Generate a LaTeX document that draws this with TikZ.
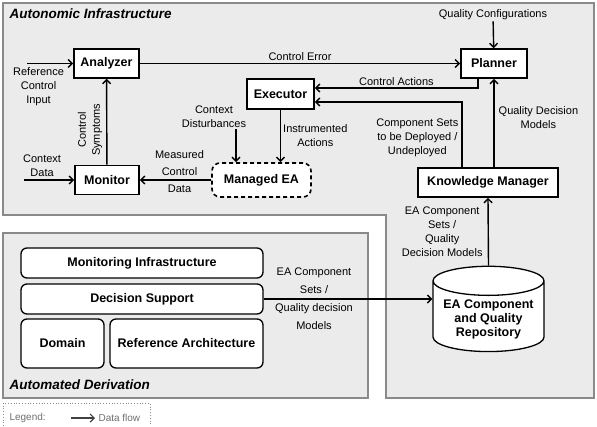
\documentclass[tikz,border=0pt]{standalone}
\usepackage{fontspec}
\setmainfont{Liberation Sans}
\usetikzlibrary{positioning,arrows.meta,shapes.geometric}
\definecolor{panelgray}{HTML}{EBEBEB}
\definecolor{framegray}{HTML}{8A8A8A}
\definecolor{legendgray}{HTML}{6E6E6E}

\begin{document}
\begin{tikzpicture}[x=1pt,y=-1pt,
  block/.style={draw, line width=1.6pt, fill=white, inner sep=0pt, minimum height=29pt, font=\fontsize{12.5}{15}\selectfont\bfseries},
  layer/.style={draw, line width=1.3pt, rounded corners=6pt, fill=white, inner sep=0pt, font=\fontsize{12.5}{15}\selectfont\bfseries},
  flow/.style={-{Straight Barb[length=4pt,width=8pt]}, line width=1.4pt},
  lbl/.style={align=center, inner sep=1pt, font=\fontsize{11}{14}\selectfont},
  panel/.style={fill=panelgray, draw=framegray, line width=1.2pt},
  title/.style={anchor=west, font=\fontsize{13.5}{16}\selectfont\bfseries\itshape}]
\useasboundingbox (0,0) rectangle (597,426);
% panels
\draw[panel] (3,3) -- (594,3) -- (594,398) -- (386,398) -- (386,215) -- (3,215) -- cycle;
\draw[panel] (3,233) rectangle (368,398);
\draw[dotted, draw=framegray, line width=0.8pt] (3,426) -- (3,403) -- (150,403) -- (150,426);
\node[title] (autotitle) at (6,14) {Autonomic Infrastructure};
\node[title] (derivtitle) at (6,385) {Automated Derivation};

% control loop
\node[block, minimum width=65pt] (analyzer) at (106.5,63.5) {Analyzer};
\node[block, minimum width=64pt] (monitor) at (107,180) {Monitor};
\node[block, dash pattern=on 4pt off 3pt, rounded corners=8pt, minimum width=99pt, minimum height=34pt] (managed) at (261.5,180) {Managed EA};
\node[block, minimum width=67pt, minimum height=30pt] (executor) at (280.5,94) {Executor};
\node[block, minimum width=66pt] (planner) at (494,63.5) {Planner};
\node[block, minimum width=140pt] (knowledge) at (488,182.5) {Knowledge Manager};
\node[cylinder, shape border rotate=90, draw, line width=1.3pt, fill=white, aspect=0.3,
  minimum width=111pt, minimum height=84pt, align=center,
  font=\fontsize{12.5}{14}\selectfont\bfseries] (repo) at (488.5,319) {EA Component\\and Quality\\Repository};

\node[lbl] (qconf) at (493,15) {Quality Configurations};
\node[lbl] (disturb) at (214,117) {Context\\Disturbances};
\node[lbl, rotate=90] (symptoms) at (90,130) {Control\\Symptoms};
\coordinate (refin) at (27,63.5);
\coordinate (ctxin) at (24,180);

\draw[flow] (refin) -- (analyzer.west) node[lbl, pos=0.25, below=2pt] {Reference\\Control\\Input};
\draw[flow] (ctxin) -- (monitor.west) node[lbl, pos=0.36, above=2pt] {Context\\Data};
\draw[flow] (monitor) -- (analyzer);
\draw[flow] (managed) -- (monitor) node[lbl, midway, xshift=4pt, yshift=8pt, font=\fontsize{11}{17}\selectfont] {Measured\\Control\\Data};
\draw[flow] (analyzer) -- (planner) node[lbl, midway, above=1pt] {Control Error};
\draw[flow] (qconf) -- (planner);
\draw[flow] ([xshift=-16pt]planner.south) |- ([yshift=6pt]executor.east) node[lbl, pos=0.75, above=1pt] {Control Actions};
\draw[flow] ([xshift=-26pt]knowledge.north) |- ([yshift=-8pt]executor.east) node[lbl, pos=0.25, left=2pt, yshift=-3pt] {Component Sets\\to be Deployed /\\Undeployed};
\draw[flow] (knowledge.north -| planner.south) -- (planner.south) node[lbl, midway, right=3pt, yshift=5pt] {Quality Decision\\Models};
\draw[flow] (executor.south) -- (executor.south |- managed.north) node[lbl, midway, right=1pt] {Instrumented\\Actions};
\draw[flow] ([xshift=-25.5pt]managed.north |- disturb.south) -- ([xshift=-25.5pt]managed.north);
\draw[flow] (repo.north) -- (knowledge.south) node[lbl, midway, left=4pt] {EA Component\\Sets /\\Quality\\Decision Models};

% derivation layers
\foreach \y/\txt/\nm in {263/Monitoring Infrastructure/monitoring, 299/Decision Support/decision} {
  \node[layer, minimum width=242pt, minimum height=30pt] (\nm) at (142,\y) {\txt};
}
\node[layer, minimum width=83pt, minimum height=49pt] (domain) at (62.5,343.5) {Domain};
\node[layer, minimum width=153pt, minimum height=49pt] (refarch) at (186.5,343.5) {Reference Architecture};
\draw[flow] (decision.east) -- (repo.west |- decision.east);
\node[lbl, font=\fontsize{11}{18}\selectfont] (modelsout) at (314,299) {EA Component\\Sets /\\Quality decision\\Models};

% legend
\node[anchor=west, text=legendgray, font=\fontsize{10}{12}\selectfont] (legend) at (6,418) {Legend:};
\node[anchor=west, text=legendgray, font=\fontsize{10}{12}\selectfont] (flowtxt) at (95,418) {Data flow};
\coordinate (legstart) at (71,418);
\draw[flow, draw=black!75, line width=1.1pt] (legstart) -- (flowtxt.west);
\end{tikzpicture}
\end{document}
